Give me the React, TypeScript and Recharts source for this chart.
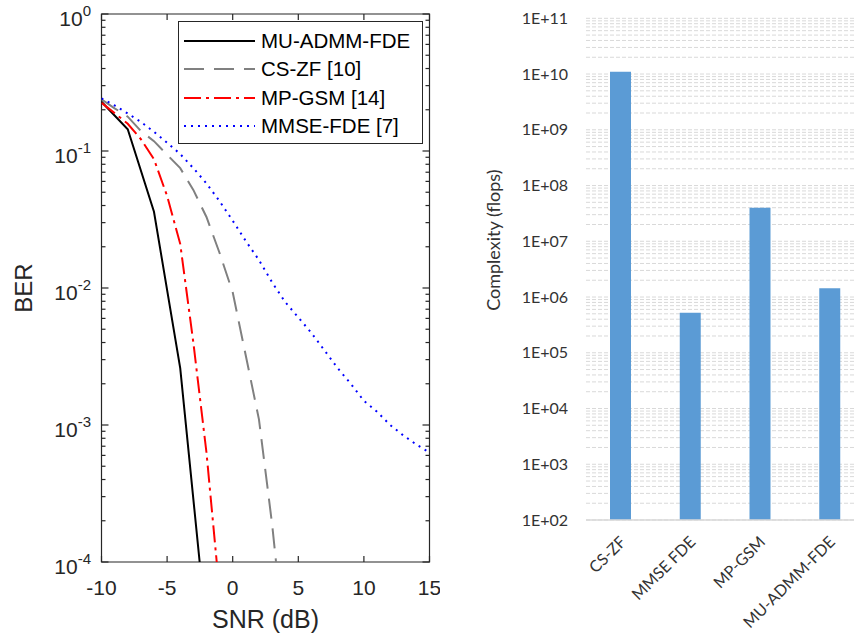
import React from "react";
import { LineChart, Line, XAxis, YAxis, Legend, BarChart, Bar, CartesianGrid, ReferenceArea, ReferenceLine } from "recharts";

// ---- left panel: BER vs SNR ----
const snrCoarse = [-10, -8, -6, -4, -2];
const snrFine = [-10, -9, -8, -7, -6, -5, -4, -3, -2, -1, 0, 1, 2, 3, 4, 5, 6, 7, 8, 9, 10, 11, 12, 13, 14, 15];

const berMuAdmm = [0.229, 0.144, 0.036, 0.0026, 3.2e-5];
const berCsZf = [0.238, 0.205, 0.178, 0.14, 0.118, 0.094, 0.075, 0.052, 0.033, 0.018, 0.0093, 0.0032, 0.0011, 1.9e-4, 2.3e-5];
const berMpGsm = [0.225, 0.189, 0.158, 0.122, 0.087, 0.047, 0.021, 0.004, 6.3e-4, 6e-5];
const berMmse = [
  0.242, 0.215, 0.188, 0.163, 0.138, 0.115, 0.095, 0.075, 0.058, 0.043, 0.031, 0.022, 0.016,
  0.011, 0.0079, 0.0061, 0.0047, 0.0035, 0.0026, 0.002, 0.0015, 0.00125, 0.001, 0.00084, 0.00072, 0.00063,
];

const snrTicks = [-10, -5, 0, 5, 10, 15];
const berMajor = [1e-4, 1e-3, 1e-2, 1e-1, 1];
const berMinor = [1e-4, 1e-3, 1e-2, 1e-1].flatMap((d) => [2, 3, 4, 5, 6, 7, 8, 9].map((k) => k * d));
const berTicks = [...berMajor, ...berMinor];

// ---- right panel: complexity ----
const methods = ["CS-ZF", "MMSE FDE", "MP-GSM", "MU-ADMM-FDE"];
const flops = [1.1e10, 5.2e5, 4.0e7, 1.43e6];
const flopMajor = [1e2, 1e3, 1e4, 1e5, 1e6, 1e7, 1e8, 1e9, 1e10, 1e11];
const flopLabels = ["1E+02", "1E+03", "1E+04", "1E+05", "1E+06", "1E+07", "1E+08", "1E+09", "1E+10", "1E+11"];
const flopMinor = flopMajor.slice(0, -1).flatMap((d) => [2, 3, 4, 5, 6, 7, 8, 9].map((k) => k * d));
const flopTicks = [...flopMajor, ...flopMinor];

const MATLAB_FONT = '"Liberation Sans", Arial, Helvetica, sans-serif';
const EXCEL_FONT = 'Lato, "Open Sans", sans-serif';
const AXIS = "#262626";

// axes box: x -10..15 over 328px, y 4 decades over 548px
const SNR_MIN = -10;
const SNR_MAX = 15;
const DB_PER_PX = (SNR_MAX - SNR_MIN) / 328;
const DEC_PER_PX = 4 / 548;

const series = [
  { name: "MU-ADMM-FDE", color: "#000000", dash: undefined as string | undefined, data: berMuAdmm.map((v, i) => ({ snr: snrCoarse[i], ber: v })) },
  { name: "CS-ZF [10]", color: "#808080", dash: "20 10", data: berCsZf.map((v, i) => ({ snr: snrFine[i], ber: v })) },
  { name: "MP-GSM [14]", color: "#ff0000", dash: "17 5 3 5", data: berMpGsm.map((v, i) => ({ snr: snrFine[i], ber: v })) },
  { name: "MMSE-FDE [7]", color: "#0000ff", dash: "2 5", data: berMmse.map((v, i) => ({ snr: snrFine[i], ber: v })) },
];

const barData = methods.map((m, i) => ({ method: m, flops: flops[i] }));

function PowTick(props: any) {
  const x = Number(props.x);
  const y = Number(props.y);
  const v = props.payload.value;
  const e = Math.round(Math.log10(v));
  return (
    <text x={x - 10.5} y={y + 12} textAnchor="end" fill={AXIS} stroke="none" fontFamily={MATLAB_FONT} fontSize={21}>
      10<tspan dy={-10} fontSize={15}>{String(e)}</tspan>
    </text>
  );
}

function SnrTick(props: any) {
  const x = Number(props.x);
  const y = Number(props.y);
  return (
    <text x={x} y={y + 33} textAnchor="middle" fill={AXIS} stroke="none" fontFamily={MATLAB_FONT} fontSize={21}>
      {props.payload.value}
    </text>
  );
}

function BerLegend() {
  return (
    <div
      style={{
        boxSizing: "border-box",
        width: 245,
        height: 123,
        border: `1px solid ${AXIS}`,
        background: "#fff",
        paddingTop: 5,
      }}
    >
      {series.map((s) => (
        <div key={s.name} style={{ display: "flex", alignItems: "center", height: 28.3 }}>
          <svg width={79} height={10} style={{ display: "block" }}>
            <line x1={5} x2={76} y1={5} y2={5} stroke={s.color} strokeWidth={2} strokeDasharray={s.dash} />
          </svg>
          <span style={{ marginLeft: 3, fontSize: 20.5, fontFamily: MATLAB_FONT, color: "#000", lineHeight: "22px" }}>
            {s.name}
          </span>
        </div>
      ))}
    </div>
  );
}

function FlopTick(props: any) {
  const { x, y, payload } = props;
  const idx = flopMajor.indexOf(payload.value);
  if (idx < 0) return <g />;
  return (
    <text x={x} y={y} dy="0.35em" textAnchor="end" fill="#333" stroke="none" fontFamily={EXCEL_FONT} fontSize={16}>
      {flopLabels[idx]}
    </text>
  );
}

function MethodTick(props: any) {
  const ax = Number(props.x) + 6;
  const ay = Number(props.y) + 23;
  return (
    <text x={ax} y={ay} textAnchor="end" transform={`rotate(-45, ${ax}, ${ay})`} fill="#333" stroke="none" fontFamily={EXCEL_FONT} fontSize={16}>
      {props.payload.value}
    </text>
  );
}

function tickMarks() {
  const out: React.ReactElement[] = [];
  berTicks.forEach((v, i) => {
    const len = (berMajor.includes(v) ? 7 : 4) * DB_PER_PX;
    out.push(
      <ReferenceLine key={`l${i}`} xAxisId="b" yAxisId="ber" ifOverflow="visible" stroke={AXIS} strokeWidth={1.2}
        segment={[{ x: SNR_MIN, y: v }, { x: SNR_MIN + len, y: v }]} />,
      <ReferenceLine key={`r${i}`} xAxisId="b" yAxisId="ber" ifOverflow="visible" stroke={AXIS} strokeWidth={1.2}
        segment={[{ x: SNR_MAX - len, y: v }, { x: SNR_MAX, y: v }]} />
    );
  });
  const f = Math.pow(10, 6 * DEC_PER_PX);
  snrTicks.forEach((s, i) => {
    out.push(
      <ReferenceLine key={`b${i}`} xAxisId="b" yAxisId="ber" ifOverflow="visible" stroke={AXIS} strokeWidth={1.2}
        segment={[{ x: s, y: 1e-4 }, { x: s, y: 1e-4 * f }]} />,
      <ReferenceLine key={`t${i}`} xAxisId="b" yAxisId="ber" ifOverflow="visible" stroke={AXIS} strokeWidth={1.2}
        segment={[{ x: s, y: 1 / f }, { x: s, y: 1 }]} />
    );
  });
  return out;
}

export default function App() {
  return (
    <div style={{ position: "absolute", left: 0, top: 0, width: 854, height: 641, overflow: "hidden", background: "#fff" }}>
      <div style={{ position: "absolute", left: 0, top: 0 }}>
        <LineChart width={440} height={641} margin={{ top: 14, right: 10.5, bottom: 29, left: 21.5 }}>
          <XAxis
            xAxisId="b"
            type="number"
            dataKey="snr"
            domain={[SNR_MIN, SNR_MAX]}
            ticks={snrTicks}
            allowDataOverflow
            interval={0}
            height={50}
            tickSize={0}
            tickMargin={0}
            tickLine={false}
            axisLine={false}
            tick={<SnrTick />}
            label={(p: any) => {
              const vb = p.viewBox;
              return (
                <text x={vb.x + vb.width / 2} y={vb.y + 66} textAnchor="middle" fill={AXIS} fontFamily={MATLAB_FONT} fontSize={25}>
                  SNR (dB)
                </text>
              );
            }}
          />
          <YAxis
            yAxisId="ber"
            type="number"
            scale="log"
            domain={[1e-4, 1]}
            ticks={berMajor}
            allowDataOverflow
            interval={0}
            width={80}
            tickSize={0}
            tickMargin={0}
            tickLine={false}
            axisLine={false}
            tick={<PowTick />}
            label={(p: any) => {
              const vb = p.viewBox;
              const cy = vb.y + vb.height / 2;
              return (
                <text transform={`translate(${vb.x + 10}, ${cy}) rotate(-90)`} textAnchor="middle" fill={AXIS} fontFamily={MATLAB_FONT} fontSize={24}>
                  BER
                </text>
              );
            }}
          />
          <ReferenceArea
            xAxisId="b"
            yAxisId="ber"
            x1={SNR_MIN}
            x2={SNR_MAX}
            y1={1e-4}
            y2={1}
            fill="none"
            fillOpacity={0}
            stroke={AXIS}
            strokeWidth={1.2}
            strokeOpacity={1}
            ifOverflow="visible"
          />
          {tickMarks()}
          <Legend
            layout="horizontal"
            verticalAlign="middle"
            align="center"
            wrapperStyle={{ left: 178, top: 21, width: 245, height: 123 }}
            content={() => <BerLegend />}
          />
          {series.map((s) => (
            <Line
              key={s.name}
              xAxisId="b"
              yAxisId="ber"
              data={s.data}
              dataKey="ber"
              name={s.name}
              stroke={s.color}
              strokeWidth={2}
              strokeDasharray={s.dash}
              dot={false}
              activeDot={false}
              type="linear"
              isAnimationActive={false}
            />
          ))}
        </LineChart>
      </div>
      <div style={{ position: "absolute", left: 470, top: 0 }}>
        <BarChart width={400} height={641} data={barData} margin={{ top: 18.3, right: 5, left: 16, bottom: 21 }}>
          <CartesianGrid vertical={false} stroke="#d9d9d9" strokeDasharray="4 2" />
          <XAxis
            dataKey="method"
            height={100}
            interval={0}
            tickLine={false}
            tickSize={0}
            tickMargin={0}
            axisLine={{ stroke: "#d9d9d9", strokeWidth: 1.5 }}
            tick={<MethodTick />}
          />
          <YAxis
            type="number"
            scale="log"
            domain={[100, 1e11]}
            ticks={flopTicks}
            allowDataOverflow
            interval={0}
            width={100}
            axisLine={false}
            tickLine={false}
            tickSize={0}
            tickMargin={18}
            tick={<FlopTick />}
            label={(p: any) => {
              const vb = p.viewBox;
              const cy = vb.y + vb.height / 2 - 29;
              return (
                <text transform={`translate(${vb.x + 14}, ${cy}) rotate(-90)`} textAnchor="middle" fill="#333" fontFamily={EXCEL_FONT} fontSize={18}>
                  Complexity (flops)
                </text>
              );
            }}
          />
          <Bar dataKey="flops" fill="#5b9bd5" barSize={21} isAnimationActive={false} />
        </BarChart>
      </div>
    </div>
  );
}
